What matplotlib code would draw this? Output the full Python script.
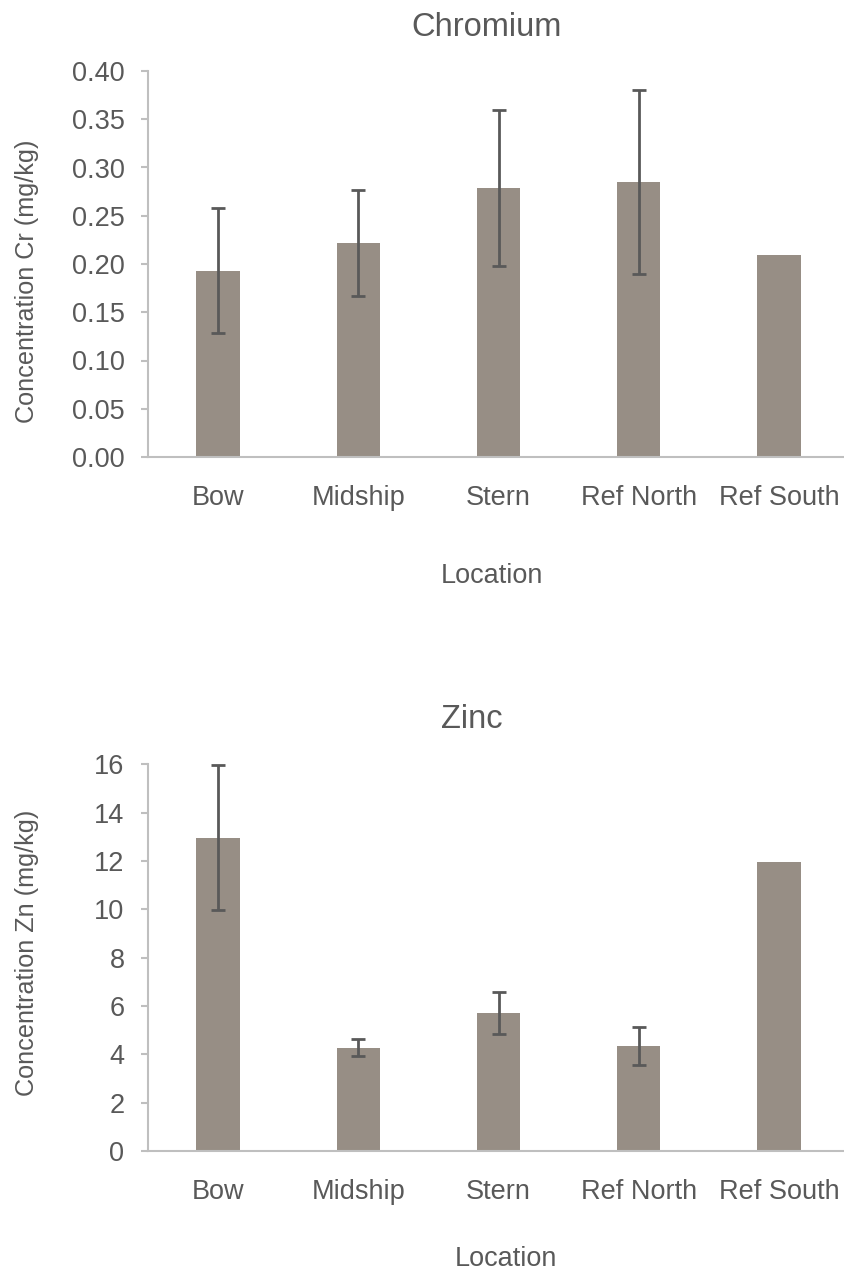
import numpy as np
import matplotlib
matplotlib.use('Agg')
import matplotlib.pyplot as plt
from matplotlib.ticker import FormatStrFormatter, MultipleLocator

plt.rcParams['font.family'] = ['Liberation Sans', 'DejaVu Sans']

locations = ['Bow', 'Midship', 'Stern', 'Ref North', 'Ref South']

cr_mean = [0.193, 0.222, 0.279, 0.285, 0.209]
cr_err = [0.065, 0.055, 0.081, 0.095, 0.0]

zn_mean = [12.96, 4.28, 5.70, 4.34, 11.97]
zn_err = [3.0, 0.34, 0.87, 0.77, 0.0]

bar_color = '#978E85'
err_color = '#595959'
axis_color = '#BFBFBF'
text_color = '#595959'
fs = 19.5

W, H = 844, 1275
fig = plt.figure(figsize=(W / 100, H / 100), dpi=100)


def draw(ax, means, errs, ylim, step, fmt):
    x = np.arange(len(locations))
    yerr = [e if e > 0 else np.nan for e in errs]
    ax.bar(x, means, width=0.31, color=bar_color, zorder=2)
    ax.errorbar(x, means, yerr=yerr, fmt='none', ecolor=err_color,
                elinewidth=2.0, capsize=5, capthick=2.0, zorder=3)
    ax.set_xlim(-0.5, 4.5)
    ax.set_ylim(*ylim)
    ax.yaxis.set_major_locator(MultipleLocator(step))
    ax.yaxis.set_major_formatter(FormatStrFormatter(fmt))
    ax.set_xticks(x)
    ax.set_xticklabels(locations)
    for s in ['top', 'right']:
        ax.spines[s].set_visible(False)
    for s in ['left', 'bottom']:
        ax.spines[s].set_color(axis_color)
        ax.spines[s].set_linewidth(1.5)
    ax.tick_params(axis='y', length=5, width=1.5, color=axis_color,
                   labelcolor=text_color, labelsize=fs, pad=12)
    ax.tick_params(axis='x', length=0, labelcolor=text_color,
                   labelsize=fs, pad=20)


# Chromium
ax1 = fig.add_axes([148 / W, 1 - 457 / H, 701 / W, 386 / H])
draw(ax1, cr_mean, cr_err, (0, 0.40), 0.05, '%.2f')
fig.text(487 / W, 1 - 28 / H, 'Chromium', ha='center', va='center',
         fontsize=23.5, color=text_color)
fig.text(27 / W, 1 - 281 / H, 'Concentration Cr (mg/kg)', ha='center',
         va='center', rotation=90, fontsize=18.2, color=text_color)
fig.text(492 / W, 1 - 576 / H, 'Location', ha='center', va='center',
         fontsize=fs, color=text_color)

# Zinc
ax2 = fig.add_axes([148 / W, 1 - 1151 / H, 701 / W, 386.7 / H])
draw(ax2, zn_mean, zn_err, (0, 16), 2, '%d')
fig.text(472 / W, 1 - 719 / H, 'Zinc', ha='center', va='center',
         fontsize=23.5, color=text_color)
fig.text(27 / W, 1 - 953 / H, 'Concentration Zn (mg/kg)', ha='center',
         va='center', rotation=90, fontsize=18.2, color=text_color)
fig.text(506 / W, 1 - 1259 / H, 'Location', ha='center', va='center',
         fontsize=fs, color=text_color)

fig.savefig('out.png', dpi=100)
